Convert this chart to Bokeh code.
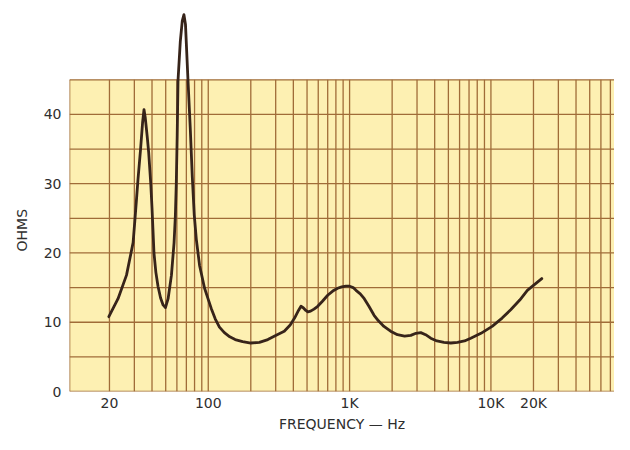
from bokeh.plotting import figure
from bokeh.models import Range1d, FixedTicker, Title
from bokeh.embed import file_html
from bokeh.resources import INLINE

# Impedance curve
FREQ = [19.8, 23.0, 26.4, 29.4, 30.2, 31.0, 31.8, 33.2, 34.3, 35.1, 35.8, 37.0, 37.9,
        39.2, 40.0, 40.6, 41.3, 42.6, 44.1, 46.0, 47.9, 49.8, 52.0, 54.9, 57.3,
        58.5, 59.4, 60.3, 61.1, 63.4, 65.5, 67.3, 69.0, 71.9, 74.6, 77.1, 79.6,
        82.3, 86.8, 94.2, 100, 105, 112, 120, 130, 142, 155, 175, 200, 230, 264,
        300, 345, 380, 408, 435, 453, 470, 490, 506, 530, 560, 595, 640, 700, 760,
        823, 880, 942, 1000, 1060, 1110, 1190, 1270, 1370, 1490, 1600, 1750, 1950,
        2180, 2450, 2710, 2950, 3190, 3450, 3750, 4150, 4650, 5200, 5800, 6500,
        7200, 8500, 10200, 12000, 13800, 16000, 18100, 20500, 22900]
OHMS = [10.8, 13.4, 16.8, 21.5, 24.5, 27.5, 30.5, 35.0, 38.8, 40.7, 39.6, 36.8, 34.5,
        30.0, 26.5, 23.5, 20.0, 17.2, 15.2, 13.5, 12.5, 12.1, 13.4, 16.8, 21.5,
        25.3, 30.0, 37.0, 44.9, 50.5, 53.5, 54.4, 53.0, 44.9, 38.0, 31.0, 25.5,
        22.0, 18.2, 14.9, 13.3, 12.0, 10.5, 9.3, 8.5, 7.9, 7.5, 7.2, 7.0, 7.1, 7.5,
        8.1, 8.7, 9.6, 10.6, 11.7, 12.3, 12.1, 11.7, 11.5, 11.6, 11.9, 12.3, 13.0,
        13.9, 14.5, 14.9, 15.1, 15.2, 15.2, 15.0, 14.6, 14.1, 13.4, 12.3, 11.0,
        10.2, 9.4, 8.7, 8.2, 8.0, 8.1, 8.4, 8.5, 8.2, 7.7, 7.3, 7.1, 7.0, 7.1, 7.3,
        7.7, 8.4, 9.4, 10.6, 11.8, 13.2, 14.6, 15.5, 16.3]

X_TICKS = [20, 100, 1000, 10000, 20000]
X_TICK_LABELS = ["20", "100", "1K", "10K", "20K"]
Y_TICKS = [0, 10, 20, 30, 40]
Y_TICK_LABELS = ["0", "10", "20", "30", "40"]
Y_GRID = [0, 5, 10, 15, 20, 25, 30, 35, 40, 45]
X_START, X_END = 10.43, 74870
Y_TOP = 56.45
GRID_TOP = 45

X_GRID = [m * 10 ** e for e in range(1, 5) for m in range(1, 10)
          if 20 <= m * 10 ** e <= X_END]

PAPER = "#FDF0B2"
GRID_C = "#A06C38"
INK = "#37241A"
TEXT_C = "#2E2E2E"
FONT = "DejaVu Sans"

p = figure(width=614, height=434, x_axis_type="log",
           x_range=Range1d(X_START, X_END), y_range=Range1d(0, Y_TOP),
           output_backend="svg", toolbar_location=None,
           min_border_left=68, min_border_right=0, min_border_top=0,
           min_border_bottom=42)
p.outline_line_color = None
p.background_fill_color = "white"
p.border_fill_color = "white"
p.xgrid.visible = False
p.ygrid.visible = False

# paper
p.quad(left=[X_START], right=[X_END], bottom=[0], top=[GRID_TOP],
       fill_color=PAPER, line_color=None)

# grid lines
p.segment(x0=X_GRID, x1=X_GRID, y0=[0] * len(X_GRID), y1=[GRID_TOP] * len(X_GRID),
          line_color=GRID_C, line_width=1.3)
p.segment(x0=[X_START] * len(Y_GRID), x1=[X_END] * len(Y_GRID), y0=Y_GRID, y1=Y_GRID,
          line_color=GRID_C, line_width=1.3)
p.segment(x0=[X_START], x1=[X_START], y0=[0], y1=[GRID_TOP],
          line_color=GRID_C, line_width=1.6)

# curve
p.line(FREQ, OHMS, line_color=INK, line_width=2.8, line_join="round", line_cap="round")

# axes
for ax in (p.xaxis[0], p.yaxis[0]):
    ax.axis_line_color = None
    ax.major_tick_line_color = None
    ax.minor_tick_line_color = None
    ax.major_tick_out = 0
    ax.major_tick_in = 0
    ax.minor_tick_out = 0
    ax.minor_tick_in = 0
    ax.major_label_text_font = FONT
    ax.major_label_text_font_size = "14px"
    ax.major_label_text_color = TEXT_C

p.xaxis.ticker = FixedTicker(ticks=X_TICKS, minor_ticks=[])
p.xaxis.major_label_overrides = {t: l for t, l in zip(X_TICKS, X_TICK_LABELS)}
p.xaxis.major_label_standoff = 3
p.xaxis.axis_label = "FREQUENCY — Hz"
p.xaxis.axis_label_text_font = FONT
p.xaxis.axis_label_text_font_style = "normal"
p.xaxis.axis_label_text_font_size = "14px"
p.xaxis.axis_label_text_color = TEXT_C
p.xaxis.axis_label_standoff = 2

p.yaxis.ticker = FixedTicker(ticks=Y_TICKS, minor_ticks=[])
p.yaxis.major_label_overrides = {t: l for t, l in zip(Y_TICKS, Y_TICK_LABELS)}
p.yaxis.major_label_standoff = 8

p.add_layout(Title(text="OHMS", align="left", offset=140, text_font=FONT,
                   text_font_size="14px", text_font_style="normal",
                   text_color=TEXT_C, standoff=22), "left")

open("out.html", "w").write(file_html(p, INLINE))
